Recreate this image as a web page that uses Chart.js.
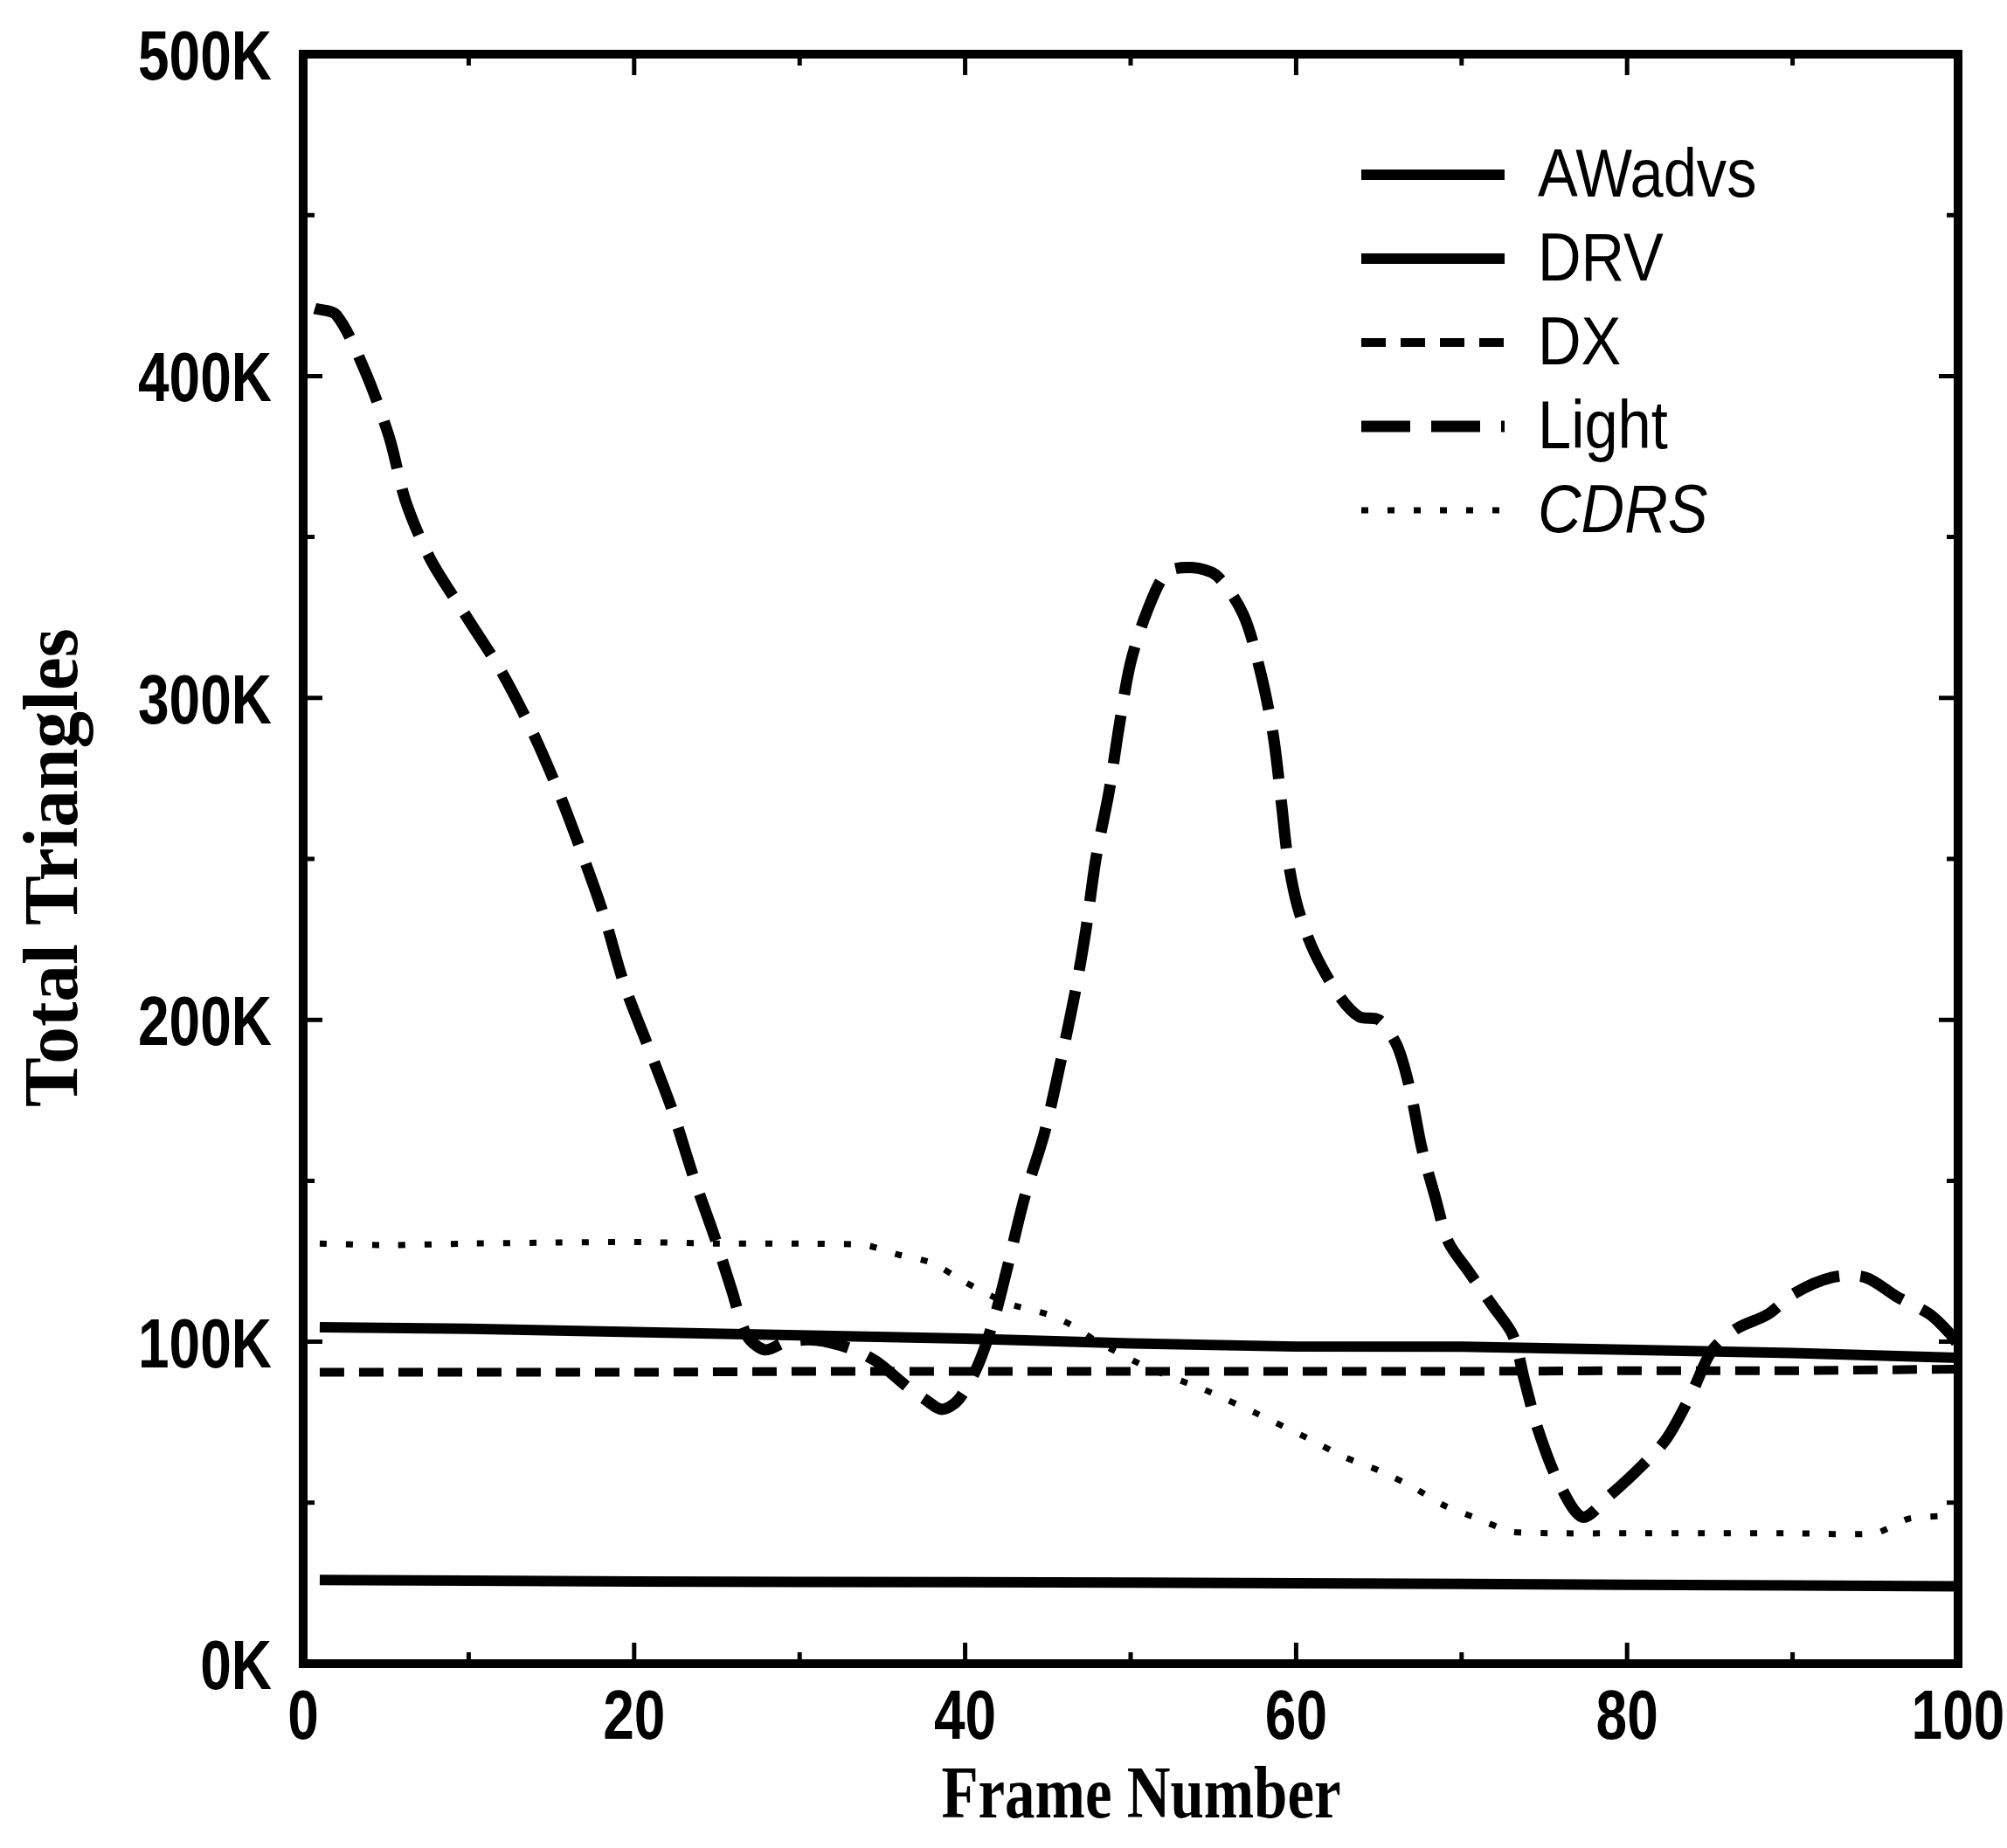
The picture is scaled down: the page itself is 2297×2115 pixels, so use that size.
<!DOCTYPE html>
<html>
<head>
<meta charset="utf-8">
<title>Total Triangles per Frame</title>
<script src="https://cdn.jsdelivr.net/npm/chart.js@4.4.1/dist/chart.umd.min.js"></script>
<style>
  html, body { margin: 0; padding: 0; background: #fff; overflow: hidden; }
  #chart { display: block; }
</style>
</head>
<body>
<canvas id="chart" width="2297" height="2115"></canvas>
<script>
  // All values are in thousands of triangles (axis shows them as "K")
  const seriesNames = ['AWadvs', 'DRV', 'DX', 'Light', 'CDRS'];

  // the three nearly flat series share these frames
  const flatFrames = [1, 10, 20, 30, 40, 50, 60, 70, 80, 90, 100];
  const awadvsValues = [104.5, 104, 103, 102, 101, 99.5, 98.5, 98.5, 97.5, 96.5, 95];
  const drvValues = [26, 25.8, 25.5, 25.4, 25.3, 25.2, 25, 24.8, 24.5, 24.3, 24];
  const dxValues = [90.5, 90.5, 90.5, 90.8, 90.8, 90.8, 90.8, 90.8, 91, 91, 91.5];

  const lightFrames = [0.7, 2, 3.7, 5.2, 6.2, 7.7, 9.9, 12, 13.9, 15.5,
    16.9, 18.2, 19.4, 20.9, 22.3, 23.6, 24.9, 25.9, 26.8, 27.9,
    29.2, 31, 33, 34.6, 36.5, 37.6, 38.6, 39.6, 40.8, 41.8,
    42.5, 43.6, 44.8, 45.9, 46.7, 47.3, 47.9, 48.7, 49.3, 50,
    51, 52.2, 53.7, 55.2, 56.8, 57.8, 58.6, 59.1, 59.5, 60.1,
    61.1, 62.6, 63.8, 65, 66.1, 66.9, 67.6, 68.4, 69.2, 70.4,
    71.9, 73.1, 73.8, 74.6, 75.8, 77.3, 78.9, 80.8, 82.4, 83.9,
    85.1, 86.6, 88.5, 90.1, 92.4, 94.4, 96.3, 98.3, 99.6, 100];
  const lightValues = [421, 419, 402, 381, 361, 343, 325, 308, 289, 270,
    251, 232, 211, 191, 172, 151, 132, 116, 102, 97.5,
    100, 100.5, 98, 94, 86, 82, 79, 82, 93, 108,
    122, 145, 165, 190, 210, 228, 250, 271, 291, 311,
    327, 339, 340.5, 338, 326, 309, 289, 268, 250, 235,
    221, 207.5, 201, 200, 192, 178, 160, 145, 131, 122,
    111, 102, 88, 73, 57, 45.5, 52, 61, 70, 84,
    97, 104, 108.5, 115, 120, 120, 114, 108.5, 102, 99];

  const cdrsFrames = [1, 5, 10, 15, 20, 25, 30, 34, 36, 38, 40, 42.5, 45, 46.5, 48,
    51, 54.5, 57.5, 60.7, 63, 65, 67, 69, 71, 73, 76, 80, 85, 90, 95, 97, 99.5];
  const cdrsValues = [130.5, 130, 130.5, 130.8, 131, 130.5, 130.5, 130, 127, 124.5, 118.5, 112, 108.5, 105, 100,
    92, 85, 78, 70, 64, 60, 55, 49, 45, 41, 40.5, 40.5, 40.5, 40.5, 40.5, 45, 46];

  const xTickValues = [0, 20, 40, 60, 80, 100];
  const xTickLabels = ['0', '20', '40', '60', '80', '100'];
  const yTickValues = [0, 100, 200, 300, 400, 500];
  const yTickLabels = ['0K', '100K', '200K', '300K', '400K', '500K'];

  function toPoints(frames, values) {
    return frames.map((f, i) => ({ x: f, y: values[i] }));
  }

  const sans = '"Liberation Sans", Arial, sans-serif';
  const serif = '"Liberation Serif", "Times New Roman", serif';

  // draw text squeezed horizontally (the original uses narrow faces)
  function squeezedText(ctx, text, x, y, sx, align) {
    ctx.save();
    ctx.translate(x, y);
    ctx.scale(sx, 1);
    ctx.textAlign = align;
    ctx.fillText(text, 0, 0);
    ctx.restore();
  }

  // box round the plot with inward tick marks on all four sides
  const framePlugin = {
    id: 'frame',
    afterDatasetsDraw(chart) {
      const { ctx, chartArea: a, scales } = chart;
      ctx.save();
      ctx.strokeStyle = '#000';
      ctx.lineWidth = 10;
      ctx.strokeRect(a.left, a.top, a.right - a.left, a.bottom - a.top);
      ctx.lineWidth = 5;
      ctx.beginPath();
      scales.x.ticks.forEach(t => {
        const px = scales.x.getPixelForValue(t.value);
        const len = t.value % 20 === 0 ? 24 : 13;
        ctx.moveTo(px, a.bottom); ctx.lineTo(px, a.bottom - len);
        ctx.moveTo(px, a.top); ctx.lineTo(px, a.top + len);
      });
      scales.y.ticks.forEach(t => {
        const py = scales.y.getPixelForValue(t.value);
        const len = t.value % 100 === 0 ? 22 : 13;
        ctx.moveTo(a.left, py); ctx.lineTo(a.left + len, py);
        ctx.moveTo(a.right, py); ctx.lineTo(a.right - len, py);
      });
      ctx.stroke();
      ctx.restore();
    }
  };

  // tick labels and axis titles
  const labelsPlugin = {
    id: 'axisText',
    afterDraw(chart) {
      const { ctx, chartArea: a, scales: { x, y } } = chart;
      ctx.save();
      ctx.fillStyle = '#000';
      ctx.textBaseline = 'alphabetic';

      ctx.font = 'bold 80px ' + sans;
      xTickValues.forEach((v, i) => {
        squeezedText(ctx, xTickLabels[i], x.getPixelForValue(v), 1990, 0.8, 'center');
      });
      yTickValues.forEach((v, i) => {
        squeezedText(ctx, yTickLabels[i], a.left - 36, y.getPixelForValue(v) + 29, 0.8, 'right');
      });

      ctx.font = 'bold 84px ' + serif;
      squeezedText(ctx, 'Frame Number', (a.left + a.right) / 2 + 12, 2080, 0.82, 'center');

      ctx.save();
      ctx.translate(88, (a.top + a.bottom) / 2 + 10);
      ctx.rotate(-Math.PI / 2);
      ctx.font = 'bold 88px ' + serif;
      squeezedText(ctx, 'Total Triangles', 0, 0, 0.97, 'center');
      ctx.restore();

      ctx.restore();
    }
  };

  // legend in the upper right, CDRS set in italics as in the original
  const legendPlugin = {
    id: 'lineLegend',
    afterDraw(chart) {
      const { ctx } = chart;
      ctx.save();
      ctx.fillStyle = '#000';
      ctx.strokeStyle = '#000';
      ctx.textBaseline = 'middle';
      chart.data.datasets.forEach((ds, i) => {
        const yRow = 200 + i * 96;
        ctx.lineWidth = ds.borderWidth;
        ctx.setLineDash(ds.borderDash || []);
        ctx.beginPath();
        ctx.moveTo(1558, yRow);
        ctx.lineTo(1722, yRow);
        ctx.stroke();
        ctx.setLineDash([]);
        const italic = ds.label === 'CDRS' ? 'italic ' : '';
        ctx.font = italic + '78px ' + sans;
        squeezedText(ctx, ds.label, 1760, yRow + 3, 0.88, 'left');
      });
      ctx.restore();
    }
  };

  function lineSet(label, points, width, dash, tension) {
    return {
      label: label,
      data: points,
      borderColor: '#000',
      backgroundColor: '#000',
      borderWidth: width,
      borderDash: dash,
      pointRadius: 0,
      tension: tension,
      fill: false
    };
  }

  new Chart(document.getElementById('chart'), {
    type: 'line',
    data: {
      datasets: [
        lineSet(seriesNames[0], toPoints(flatFrames, awadvsValues), 12, [], 0),
        lineSet(seriesNames[1], toPoints(flatFrames, drvValues), 12, [], 0),
        lineSet(seriesNames[2], toPoints(flatFrames, dxValues), 10, [28, 17], 0),
        lineSet(seriesNames[3], toPoints(lightFrames, lightValues), 13, [56, 24], 0.3),
        lineSet(seriesNames[4], toPoints(cdrsFrames, cdrsValues), 7, [8, 22], 0.2)
      ]
    },
    options: {
      responsive: false,
      animation: false,
      devicePixelRatio: 1,
      layout: { padding: { left: 0, top: 62, right: 56, bottom: 0 } },
      plugins: {
        legend: { display: false },
        tooltip: { enabled: false }
      },
      scales: {
        x: {
          type: 'linear',
          min: 0,
          max: 100,
          grid: { display: false, drawTicks: false },
          border: { display: false },
          ticks: { stepSize: 10, autoSkip: false, display: false },
          afterFit: s => { s.height = 211; }
        },
        y: {
          type: 'linear',
          min: 0,
          max: 500,
          grid: { display: false, drawTicks: false },
          border: { display: false },
          ticks: { stepSize: 50, autoSkip: false, display: false },
          afterFit: s => { s.width = 347; }
        }
      }
    },
    plugins: [framePlugin, labelsPlugin, legendPlugin]
  });
</script>
</body>
</html>
